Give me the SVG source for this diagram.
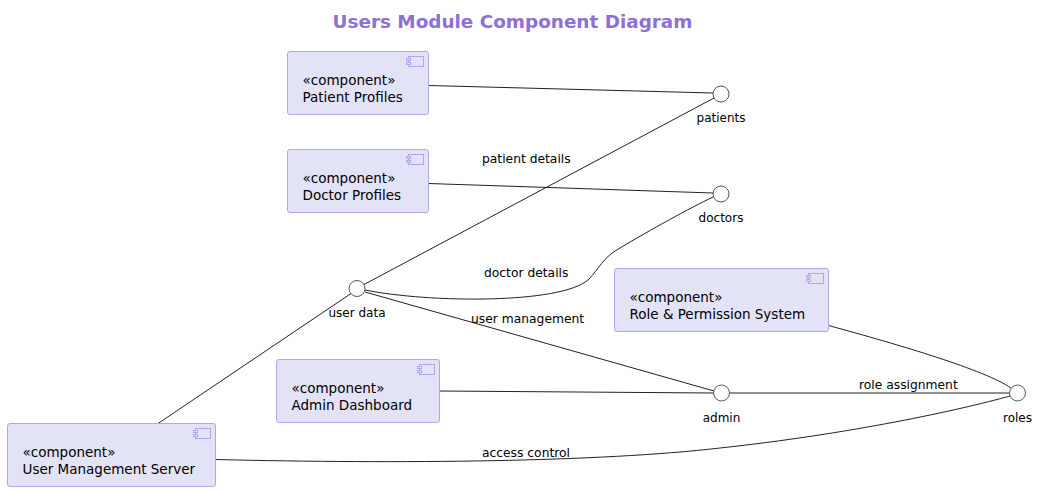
<svg xmlns="http://www.w3.org/2000/svg" width="1038" height="491" viewBox="0 0 1038 491">
<style>
.box{fill:#E3E3F8;stroke:#B7A3E8;stroke-width:1}
.icon{fill:#E3E3F8;stroke:#B7A3E8;stroke-width:1}
.ctext{font-family:"DejaVu Sans",sans-serif;font-size:13.5px;fill:#000}
.iface{fill:#FFFFFF;stroke:#555555;stroke-width:1}
.ilabel{font-family:"DejaVu Sans",sans-serif;font-size:12px;fill:#000;text-anchor:middle}
.elabel{font-family:"DejaVu Sans",sans-serif;font-size:12.3px;fill:#000}
.conn{fill:none;stroke:#222222;stroke-width:1}
.title{font-family:"DejaVu Sans",sans-serif;font-size:18.4px;font-weight:bold;fill:#8E6FD8;text-anchor:middle}
</style>
<rect width="1038" height="491" fill="#FFFFFF"/>
<text class="title" x="512.5" y="28">Users Module Component Diagram</text>

<g id="connectors">
<path class="conn" d="M428.5,85.5 L713,93"/>
<path class="conn" d="M428.5,183.5 L713,193"/>
<path class="conn" d="M364,284.5 L714,98"/>
<path class="conn" d="M158,423.5 L351,293.5"/>
<path class="conn" d="M365,290 C430,303 560,304 588,280 C600,268 602,258 620,248 C650,230 690,208 713,197"/>
<path class="conn" d="M365,292 L714,391"/>
<path class="conn" d="M439.5,391 L713.5,393"/>
<path class="conn" d="M729.5,393 L1009.5,393"/>
<path class="conn" d="M828.5,325.5 C900,345 985,370 1011,388"/>
<path class="conn" d="M215.5,459.5 C400,464 600,462 720,448 C850,434 960,410 1010,396"/>
<text class="elabel" x="482" y="163">patient details</text>
<text class="elabel" x="484" y="277">doctor details</text>
<text class="elabel" x="471" y="323">user management</text>
<text class="elabel" x="859" y="389">role assignment</text>
<text class="elabel" x="482" y="457">access control</text>
</g>

<g id="patient-profiles">
<rect class="box" x="287.5" y="51.5" width="141" height="63" rx="2.5"/>
<rect class="icon" x="408.5" y="56.5" width="15" height="10"/>
<rect class="icon" x="406.5" y="58.5" width="4" height="2"/>
<rect class="icon" x="406.5" y="62.5" width="4" height="2"/>
<text class="ctext" x="302.5" y="85">«component»</text>
<text class="ctext" x="302.5" y="102">Patient Profiles</text>
</g>

<g id="doctor-profiles">
<rect class="box" x="287.5" y="149.5" width="141" height="63" rx="2.5"/>
<rect class="icon" x="408.5" y="154.5" width="15" height="10"/>
<rect class="icon" x="406.5" y="156.5" width="4" height="2"/>
<rect class="icon" x="406.5" y="160.5" width="4" height="2"/>
<text class="ctext" x="302.5" y="183">«component»</text>
<text class="ctext" x="302.5" y="200">Doctor Profiles</text>
</g>

<g id="admin-dashboard">
<rect class="box" x="276.5" y="359.5" width="163" height="63" rx="2.5"/>
<rect class="icon" x="419.5" y="364.5" width="15" height="10"/>
<rect class="icon" x="417.5" y="366.5" width="4" height="2"/>
<rect class="icon" x="417.5" y="370.5" width="4" height="2"/>
<text class="ctext" x="291.5" y="393">«component»</text>
<text class="ctext" x="291.5" y="410">Admin Dashboard</text>
</g>

<g id="user-management-server">
<rect class="box" x="7.5" y="423.5" width="208" height="63" rx="2.5"/>
<rect class="icon" x="195.5" y="428.5" width="15" height="10"/>
<rect class="icon" x="193.5" y="430.5" width="4" height="2"/>
<rect class="icon" x="193.5" y="434.5" width="4" height="2"/>
<text class="ctext" x="22.5" y="457">«component»</text>
<text class="ctext" x="22.5" y="474">User Management Server</text>
</g>

<g id="role-permission-system">
<rect class="box" x="614.5" y="268.5" width="214" height="63" rx="2.5"/>
<rect class="icon" x="808.5" y="273.5" width="15" height="10"/>
<rect class="icon" x="806.5" y="275.5" width="4" height="2"/>
<rect class="icon" x="806.5" y="279.5" width="4" height="2"/>
<text class="ctext" x="629.5" y="302">«component»</text>
<text class="ctext" x="629.5" y="319">Role &amp; Permission System</text>
</g>

<g id="patients">
<circle class="iface" cx="721" cy="94" r="8"/>
<text class="ilabel" x="721" y="122">patients</text>
</g>
<g id="doctors">
<circle class="iface" cx="721" cy="194" r="8"/>
<text class="ilabel" x="721" y="222">doctors</text>
</g>
<g id="user-data">
<circle class="iface" cx="357" cy="288.5" r="8"/>
<text class="ilabel" x="357" y="316.5">user data</text>
</g>
<g id="admin">
<circle class="iface" cx="721.5" cy="393" r="8"/>
<text class="ilabel" x="721.5" y="421.5">admin</text>
</g>
<g id="roles">
<circle class="iface" cx="1017.5" cy="393" r="8"/>
<text class="ilabel" x="1017.5" y="421.5">roles</text>
</g>
</svg>
